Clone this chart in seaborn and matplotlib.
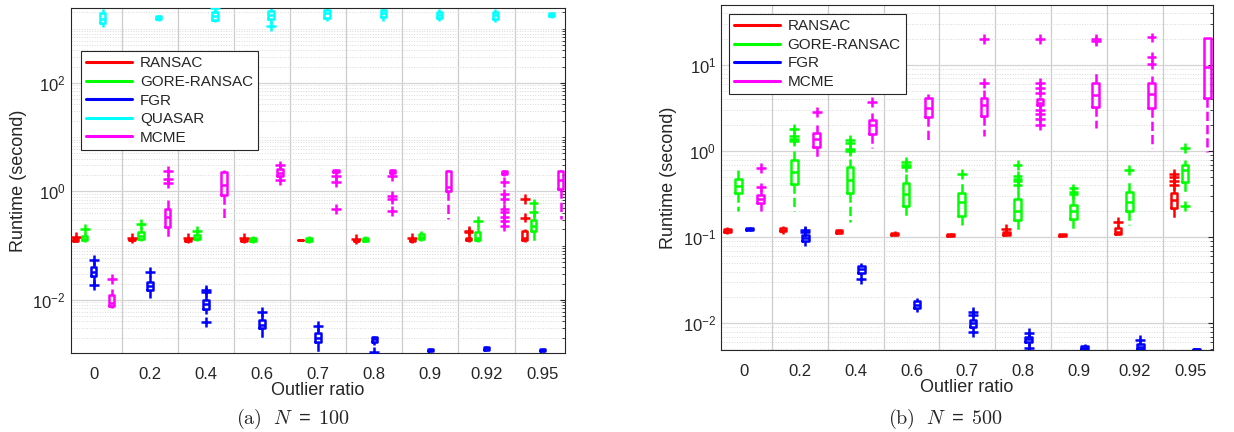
import numpy as np
import pandas as pd
import matplotlib
matplotlib.use("Agg")
import matplotlib.pyplot as plt
import seaborn as sns
from matplotlib.lines import Line2D
from matplotlib.ticker import FixedLocator, LogLocator, NullFormatter

ratios = ["0", "0.2", "0.4", "0.6", "0.7", "0.8", "0.9", "0.92", "0.95"]
colors = {"RANSAC": (1, 0, 0), "GORE-RANSAC": (0, 1, 0), "FGR": (0, 0, 1),
          "QUASAR": (0, 1, 1), "MCME": (1, 0, 1)}

# box statistics per outlier ratio: [lower whisker, q1, median, q3, upper whisker]
# panel (a) N = 100
a_ransac = [[0.118, 0.124, 0.13, 0.136, 0.142], [0.12, 0.125, 0.128, 0.132, 0.136],
            [0.12, 0.124, 0.128, 0.132, 0.136], [0.12, 0.124, 0.128, 0.132, 0.136],
            [0.124, 0.125, 0.126, 0.127, 0.128], [0.115, 0.12, 0.124, 0.128, 0.132],
            [0.12, 0.124, 0.128, 0.132, 0.136], [0.118, 0.125, 0.13, 0.14, 0.15],
            [0.115, 0.125, 0.14, 0.19, 0.2]]
a_ransac_out = [[0.145], [0.14], [0.14], [0.14], [], [0.135], [0.14], [0.175, 0.19], [0.33, 0.73]]

a_gore = [[0.115, 0.125, 0.135, 0.15, 0.17], [0.12, 0.135, 0.15, 0.18, 0.22],
          [0.12, 0.13, 0.14, 0.16, 0.17], [0.11, 0.12, 0.128, 0.138, 0.15],
          [0.11, 0.12, 0.128, 0.138, 0.15], [0.115, 0.122, 0.13, 0.14, 0.15],
          [0.12, 0.13, 0.145, 0.165, 0.19], [0.115, 0.125, 0.14, 0.18, 0.24],
          [0.105, 0.19, 0.23, 0.3, 0.5]]
a_gore_out = [[0.2], [0.25], [0.19], [], [], [], [], [0.29], [0.6, 0.42]]

a_fgr = [[0.02, 0.028, 0.033, 0.041, 0.05], [0.011, 0.015, 0.018, 0.021, 0.028],
         [0.0055, 0.0069, 0.0085, 0.0098, 0.012], [0.0018, 0.003, 0.0035, 0.0042, 0.0055],
         [0.0009, 0.0017, 0.002, 0.0025, 0.003], [0.0015, 0.0017, 0.0019, 0.0021, 0.0022],
         [0.0011, 0.00115, 0.0012, 0.00125, 0.0013], [0.00115, 0.0012, 0.00128, 0.00135, 0.0014],
         [0.0011, 0.00115, 0.0012, 0.00125, 0.0013]]
a_fgr_out = [[0.055, 0.019], [0.032], [0.015, 0.014, 0.0039], [0.006], [0.0033], [0.0011], [], [], []]

a_quasar = [[1050, 1250, 1500, 1900, 2300], [1400, 1500, 1600, 1700, 1800],
            [1300, 1450, 1700, 2000, 2300], [1200, 1500, 1800, 2100, 2400],
            [1400, 1600, 1900, 2200, 2500], [1400, 1650, 1900, 2200, 2500],
            [1400, 1550, 1750, 2000, 2300], [1300, 1500, 1750, 2000, 2300],
            [1600, 1700, 1800, 1900, 2000]]
a_quasar_out = [[], [], [2400], [1100], [], [], [], [], []]

a_mcme = [[0.0072, 0.0078, 0.0088, 0.0125, 0.016], [0.135, 0.22, 0.34, 0.48, 0.68],
          [0.31, 0.85, 1.3, 2.3, 2.5], [1.7, 1.9, 2.2, 2.6, 2.9],
          [2.2, 2.3, 2.4, 2.5, 2.6], [2.1, 2.2, 2.35, 2.5, 2.6],
          [0.31, 1.0, 1.2, 2.4, 2.5], [1.95, 2.1, 2.3, 2.4, 2.5],
          [0.31, 1.12, 1.6, 2.4, 2.5]]
a_mcme_out = [[0.0245], [1.4, 1.7, 2.4], [], [1.6, 3.0], [1.95, 1.5, 0.48],
              [1.9, 0.83, 0.73, 0.44], [], [1.5, 0.9, 0.73, 0.48, 0.42, 0.34, 0.29, 0.23], []]

# panel (b) N = 500
b_ransac = [[0.108, 0.115, 0.12, 0.126, 0.132], [0.11, 0.117, 0.122, 0.128, 0.135],
            [0.108, 0.113, 0.117, 0.121, 0.125], [0.103, 0.107, 0.11, 0.113, 0.117],
            [0.101, 0.104, 0.107, 0.11, 0.113], [0.103, 0.107, 0.111, 0.116, 0.12],
            [0.102, 0.104, 0.106, 0.108, 0.11], [0.105, 0.11, 0.116, 0.128, 0.14],
            [0.16, 0.22, 0.27, 0.33, 0.38]]
b_ransac_out = [[], [], [], [], [], [0.124], [], [0.15], [0.4, 0.45, 0.5, 0.55]]

b_gore = [[0.2, 0.33, 0.39, 0.48, 0.6], [0.2, 0.42, 0.57, 0.79, 1.0],
          [0.15, 0.33, 0.46, 0.65, 0.82], [0.165, 0.23, 0.32, 0.43, 0.55],
          [0.14, 0.175, 0.26, 0.33, 0.45], [0.12, 0.16, 0.2, 0.28, 0.38],
          [0.115, 0.165, 0.2, 0.24, 0.3], [0.14, 0.2, 0.26, 0.34, 0.44],
          [0.33, 0.44, 0.6, 0.69, 0.8]]
b_gore_out = [[], [1.3, 1.4, 1.5, 1.8], [1.0, 1.05, 1.25, 1.35], [0.65, 0.7, 0.75], [0.55],
              [0.4, 0.45, 0.48, 0.52, 0.69], [0.32, 0.34, 0.37], [0.6], [1.08, 0.23]]

b_fgr = [[0.118, 0.121, 0.124, 0.127, 0.13], [0.08, 0.09, 0.097, 0.105, 0.11],
         [0.036, 0.038, 0.043, 0.047, 0.05], [0.0135, 0.015, 0.0165, 0.018, 0.0195],
         [0.0085, 0.009, 0.01, 0.011, 0.0115], [0.0055, 0.006, 0.0065, 0.007, 0.0075],
         [0.0047, 0.005, 0.0052, 0.0055, 0.0058], [0.0048, 0.005, 0.0053, 0.0057, 0.006],
         [0.0049, 0.00495, 0.005, 0.00505, 0.0051]]
b_fgr_out = [[], [0.115, 0.12], [0.033], [], [0.0125, 0.0135, 0.008], [0.0052, 0.0078], [], [0.0064], []]

b_mcme = [[0.2, 0.25, 0.28, 0.31, 0.36], [0.82, 1.12, 1.4, 1.65, 2.0],
          [1.1, 1.6, 2.0, 2.3, 2.8], [1.28, 2.5, 3.2, 4.1, 4.6],
          [1.5, 2.6, 3.4, 4.1, 5.1], [3.2, 3.4, 3.6, 4.0, 4.3],
          [1.85, 3.3, 4.5, 6.2, 8.3], [1.08, 3.2, 4.6, 6.2, 7.5],
          [0.97, 4.1, 9.5, 20.5, 20.5]]
b_mcme_out = [[0.38, 0.64], [2.85], [3.7], [], [6.2, 20], [2.0, 2.4, 2.7, 3.0, 4.8, 5.5, 6.2, 20],
              [19, 20], [10.2, 12.4, 21], []]


def build_frames(boxes, outliers):
    rows, out_rows = [], []
    for method in boxes:
        for ratio, (lo, q1, med, q3, hi) in zip(ratios, boxes[method]):
            for v in [lo, q1, q1, med, q3, q3, hi]:
                rows.append((ratio, method, v))
        for ratio, vals in zip(ratios, outliers[method]):
            for v in vals:
                out_rows.append((ratio, method, v))
    cols = ["ratio", "method", "runtime"]
    return pd.DataFrame(rows, columns=cols), pd.DataFrame(out_rows, columns=cols)


def draw_panel(ax, boxes, outliers, yticks, ylim, anchor):
    methods = list(boxes)
    box_df, out_df = build_frames(boxes, outliers)
    pal = {m: colors[m] for m in methods}
    ax.set_yscale("log")
    sns.boxplot(data=box_df, x="ratio", y="runtime", hue="method", order=ratios,
                hue_order=methods, palette=pal, saturation=1, fill=False, whis=(0, 100),
                showfliers=False, showcaps=False, width=0.8, gap=0.4, linewidth=1.8,
                whiskerprops={"linestyle": "--"}, legend=False, ax=ax)
    sns.stripplot(data=out_df, x="ratio", y="runtime", hue="method", order=ratios,
                  hue_order=methods, palette=pal, dodge=True, jitter=False,
                  marker="+", size=7, linewidth=1.8, legend=False, ax=ax)

    ax.set_xlim(-0.41, 8.4)
    ax.set_ylim(*ylim)
    ax.yaxis.set_major_locator(FixedLocator(yticks))
    ax.yaxis.set_minor_locator(LogLocator(base=10, subs=np.arange(1, 10), numticks=60))
    ax.yaxis.set_minor_formatter(NullFormatter())
    ax.set_xticks(np.arange(0.5, 8, 1), minor=True)
    ax.set_axisbelow(True)
    ax.grid(False)
    ax.grid(True, which="major", axis="y", color="#d4d4d4", linewidth=0.9)
    ax.grid(True, which="minor", axis="y", color="#dadada", linestyle=":", linewidth=0.7)
    ax.grid(True, which="minor", axis="x", color="#cccccc", linewidth=0.9)
    ax.tick_params(axis="x", which="both", length=0, labelsize=12, pad=10)
    ax.tick_params(axis="y", which="both", direction="in", right=True, labelsize=12)
    ax.tick_params(axis="y", which="minor", length=2.5)
    for s in ax.spines.values():
        s.set_color("#262626")
        s.set_linewidth(0.8)
    ax.set_xlabel("Outlier ratio", fontsize=13, labelpad=0)
    ax.set_ylabel("Runtime (second)", fontsize=13)

    handles = [Line2D([], [], color=colors[m], linewidth=2.2) for m in methods]
    leg = ax.legend(handles, methods, loc="upper left", bbox_to_anchor=anchor,
                    borderaxespad=0, fontsize=11, frameon=True, fancybox=False,
                    handlelength=3.0, borderpad=0.35, labelspacing=0.3,
                    handletextpad=0.5)
    leg.get_frame().set_edgecolor("#262626")
    leg.get_frame().set_linewidth(0.8)
    leg.get_frame().set_alpha(1)


sns.set_style("white")
plt.rcParams["font.family"] = ["Liberation Sans", "DejaVu Sans"]
plt.rcParams["mathtext.default"] = "regular"

fig = plt.figure(figsize=(12.34, 4.32), dpi=100)
ax_a = fig.add_axes([0.0573, 0.1829, 0.4006, 0.7986])
ax_b = fig.add_axes([0.5843, 0.1898, 0.3987, 0.7986])

draw_panel(ax_a,
           {"RANSAC": a_ransac, "GORE-RANSAC": a_gore, "FGR": a_fgr,
            "QUASAR": a_quasar, "MCME": a_mcme},
           {"RANSAC": a_ransac_out, "GORE-RANSAC": a_gore_out, "FGR": a_fgr_out,
            "QUASAR": a_quasar_out, "MCME": a_mcme_out},
           [1e-2, 1e0, 1e2], (1.05e-3, 2.4e3), (0.021, 0.875))
draw_panel(ax_b,
           {"RANSAC": b_ransac, "GORE-RANSAC": b_gore, "FGR": b_fgr, "MCME": b_mcme},
           {"RANSAC": b_ransac_out, "GORE-RANSAC": b_gore_out, "FGR": b_fgr_out,
            "MCME": b_mcme_out},
           [1e-2, 1e-1, 1e0, 1e1], (0.0049, 50), (0.016, 0.974))

cap = dict(fontsize=14.5, ha="center", va="center", math_fontfamily="cm")
fig.text(0.2375, 0.03, r"$\mathrm{(a)}\ \ \mathit{N}\;=\;\mathrm{100}$", **cap)
fig.text(0.766, 0.03, r"$\mathrm{(b)}\ \ \mathit{N}\;=\;\mathrm{500}$", **cap)

fig.savefig("out.png", dpi=100)
